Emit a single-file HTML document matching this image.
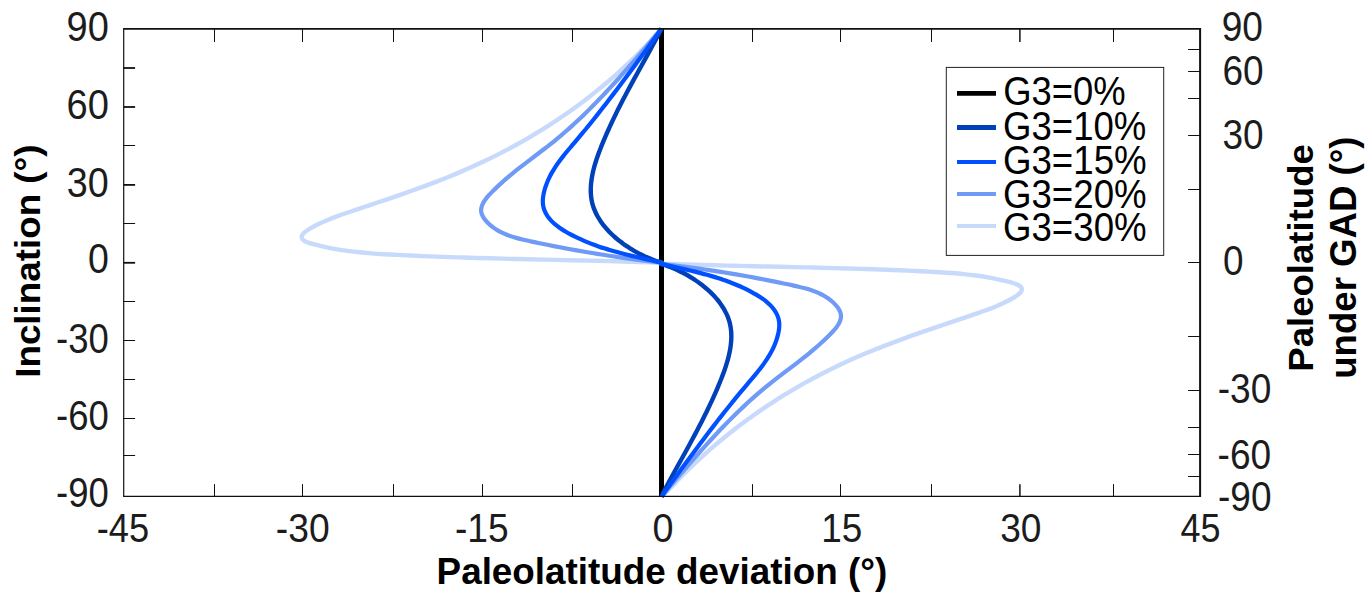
<!DOCTYPE html><html><head><meta charset="utf-8"><title>chart</title><style>html,body{margin:0;padding:0;background:#fff}svg{display:block;font-family:"Liberation Sans",sans-serif}</style></head><body>
<svg width="1372" height="595" viewBox="0 0 1372 595">
<rect width="1372" height="595" fill="#fff"/>
<g fill="none" stroke-linejoin="round">
<line x1="661.5" y1="28.9" x2="661.5" y2="496.35" stroke="#000" stroke-width="5"/>
<path d="M661.40,28.60 C660.03,30.18 655.96,35.02 653.18,38.10 C650.40,41.18 647.58,44.13 644.72,47.09 C641.87,50.05 638.98,52.98 636.05,55.88 C633.12,58.77 630.15,61.63 627.15,64.46 C624.15,67.28 621.12,70.07 618.05,72.83 C614.98,75.58 611.87,78.30 608.73,80.98 C605.60,83.67 602.42,86.31 599.22,88.92 C596.02,91.53 592.78,94.11 589.52,96.65 C586.25,99.18 582.96,101.68 579.63,104.15 C576.31,106.61 572.95,109.04 569.57,111.43 C566.18,113.82 562.77,116.17 559.33,118.49 C555.89,120.80 552.42,123.08 548.93,125.32 C545.44,127.56 541.92,129.77 538.37,131.93 C534.83,134.10 531.26,136.23 527.67,138.32 C524.07,140.41 520.46,142.46 516.82,144.48 C513.18,146.49 509.51,148.47 505.83,150.41 C502.14,152.35 498.44,154.25 494.71,156.11 C490.98,157.98 487.23,159.80 483.47,161.59 C479.70,163.38 475.91,165.13 472.10,166.84 C468.30,168.55 464.48,170.22 460.63,171.86 C456.78,173.50 452.91,175.10 449.00,176.68 C445.10,178.26 441.16,179.81 437.20,181.33 C433.24,182.86 429.25,184.36 425.24,185.84 C421.23,187.33 417.19,188.79 413.13,190.24 C409.07,191.69 404.99,193.12 400.89,194.55 C396.78,195.97 392.65,197.38 388.51,198.80 C384.36,200.21 380.19,201.61 376.01,203.02 C371.82,204.44 367.59,205.85 363.40,207.26 C359.21,208.67 354.94,210.10 350.85,211.49 C346.77,212.88 342.67,214.24 338.91,215.60 C335.14,216.97 331.66,218.27 328.26,219.68 C324.87,221.09 321.66,222.52 318.54,224.06 C315.43,225.60 311.90,227.53 309.57,228.91 C307.24,230.30 305.71,231.46 304.56,232.38 C303.41,233.31 303.09,233.87 302.65,234.47 C302.20,235.07 302.05,235.55 301.90,236.00 C301.74,236.45 301.72,236.81 301.71,237.16 C301.71,237.51 301.75,237.79 301.86,238.11 C301.97,238.43 302.08,238.72 302.36,239.08 C302.64,239.44 302.86,239.80 303.54,240.28 C304.23,240.75 304.83,241.28 306.47,241.93 C308.10,242.58 310.36,243.37 313.37,244.19 C316.38,245.01 320.74,246.05 324.50,246.86 C328.26,247.68 332.08,248.42 335.93,249.09 C339.78,249.75 343.66,250.34 347.60,250.87 C351.54,251.40 355.51,251.86 359.54,252.27 C363.58,252.68 367.66,253.02 371.81,253.34 C375.96,253.66 380.17,253.92 384.45,254.18 C388.72,254.43 393.11,254.66 397.47,254.88 C401.82,255.11 406.21,255.32 410.59,255.52 C414.97,255.73 419.35,255.92 423.73,256.11 C428.12,256.29 432.50,256.47 436.89,256.63 C441.29,256.80 445.68,256.96 450.08,257.11 C454.47,257.26 458.88,257.41 463.28,257.55 C467.68,257.69 472.09,257.82 476.50,257.95 C480.91,258.08 485.32,258.20 489.74,258.32 C494.15,258.44 498.57,258.55 502.99,258.66 C507.42,258.77 511.84,258.88 516.27,258.98 C520.70,259.09 525.13,259.19 529.56,259.29 C533.99,259.39 538.43,259.49 542.87,259.59 C547.31,259.69 551.75,259.79 556.19,259.89 C560.63,259.99 565.07,260.09 569.50,260.19 C573.94,260.29 578.37,260.39 582.80,260.49 C587.23,260.60 591.65,260.70 596.08,260.81 C600.50,260.92 604.92,261.03 609.34,261.15 C613.76,261.27 618.17,261.39 622.58,261.51 C626.99,261.64 631.40,261.77 635.81,261.90 C640.21,262.04 644.61,262.18 649.01,262.33 C653.41,262.48 660.00,262.72 662.20,262.80 M661.30,263.60 C663.50,263.68 670.09,263.92 674.49,264.07 C678.89,264.22 683.29,264.36 687.69,264.50 C692.10,264.63 696.51,264.76 700.92,264.89 C705.33,265.01 709.74,265.13 714.16,265.25 C718.58,265.37 723.00,265.48 727.42,265.59 C731.85,265.70 736.27,265.80 740.70,265.91 C745.13,266.01 749.56,266.11 754.00,266.21 C758.43,266.31 762.87,266.41 767.31,266.51 C771.75,266.61 776.19,266.71 780.63,266.81 C785.07,266.91 789.51,267.01 793.94,267.11 C798.37,267.21 802.80,267.31 807.23,267.42 C811.66,267.52 816.08,267.63 820.51,267.74 C824.93,267.85 829.35,267.96 833.76,268.08 C838.18,268.20 842.59,268.32 847.00,268.45 C851.41,268.58 855.82,268.71 860.22,268.85 C864.62,268.99 869.03,269.14 873.42,269.29 C877.82,269.44 882.21,269.60 886.61,269.77 C891.00,269.93 895.38,270.11 899.77,270.29 C904.15,270.48 908.53,270.67 912.91,270.88 C917.29,271.08 921.68,271.29 926.03,271.52 C930.39,271.74 934.78,271.97 939.05,272.22 C943.33,272.48 947.54,272.74 951.69,273.06 C955.84,273.38 959.92,273.72 963.96,274.13 C967.99,274.54 971.96,275.00 975.90,275.53 C979.84,276.06 983.72,276.65 987.57,277.31 C991.42,277.98 995.24,278.72 999.00,279.54 C1002.76,280.35 1007.12,281.39 1010.13,282.21 C1013.14,283.03 1015.40,283.82 1017.03,284.47 C1018.67,285.12 1019.27,285.65 1019.96,286.12 C1020.64,286.60 1020.86,286.96 1021.14,287.32 C1021.42,287.68 1021.53,287.97 1021.64,288.29 C1021.75,288.61 1021.79,288.89 1021.79,289.24 C1021.78,289.59 1021.76,289.95 1021.60,290.40 C1021.45,290.85 1021.30,291.33 1020.85,291.93 C1020.41,292.53 1020.09,293.09 1018.94,294.02 C1017.79,294.94 1016.26,296.10 1013.93,297.49 C1011.60,298.87 1008.07,300.80 1004.96,302.34 C1001.84,303.88 998.63,305.31 995.24,306.72 C991.84,308.13 988.36,309.43 984.59,310.80 C980.83,312.16 976.73,313.52 972.65,314.91 C968.56,316.30 964.29,317.73 960.10,319.14 C955.91,320.55 951.68,321.96 947.49,323.38 C943.31,324.79 939.14,326.19 934.99,327.60 C930.85,329.02 926.72,330.43 922.61,331.85 C918.51,333.28 914.43,334.71 910.37,336.16 C906.31,337.61 902.27,339.07 898.26,340.56 C894.25,342.04 890.26,343.54 886.30,345.07 C882.34,346.59 878.40,348.14 874.50,349.72 C870.59,351.30 866.72,352.90 862.87,354.54 C859.02,356.18 855.20,357.85 851.40,359.56 C847.59,361.27 843.80,363.02 840.03,364.81 C836.27,366.60 832.52,368.42 828.79,370.29 C825.06,372.15 821.36,374.05 817.67,375.99 C813.99,377.93 810.32,379.91 806.68,381.92 C803.04,383.94 799.43,385.99 795.83,388.08 C792.24,390.17 788.67,392.30 785.13,394.47 C781.58,396.63 778.06,398.84 774.57,401.08 C771.08,403.32 767.61,405.60 764.17,407.91 C760.73,410.23 757.32,412.58 753.93,414.97 C750.55,417.36 747.19,419.79 743.87,422.25 C740.54,424.72 737.25,427.22 733.98,429.75 C730.72,432.29 727.48,434.87 724.28,437.48 C721.08,440.09 717.90,442.73 714.77,445.42 C711.63,448.10 708.52,450.82 705.45,453.57 C702.38,456.33 699.35,459.12 696.35,461.94 C693.35,464.77 690.38,467.63 687.45,470.52 C684.52,473.42 681.63,476.35 678.78,479.31 C675.92,482.27 673.19,485.40 670.32,488.30 C667.46,491.21 663.05,495.34 661.60,496.75" stroke="#c8dafc" stroke-width="4.4"/>
<path d="M661.40,28.60 C660.53,29.67 657.92,32.95 656.19,35.05 C654.45,37.14 652.72,39.14 650.99,41.17 C649.26,43.21 647.53,45.24 645.80,47.26 C644.08,49.28 642.36,51.30 640.63,53.30 C638.91,55.31 637.19,57.31 635.47,59.30 C633.75,61.29 632.02,63.27 630.30,65.25 C628.58,67.22 626.85,69.18 625.13,71.13 C623.40,73.09 621.67,75.03 619.94,76.96 C618.21,78.89 616.48,80.82 614.74,82.73 C613.00,84.63 611.26,86.53 609.52,88.42 C607.77,90.30 606.02,92.17 604.27,94.03 C602.51,95.89 600.76,97.74 598.99,99.57 C597.23,101.40 595.45,103.22 593.68,105.02 C591.90,106.82 590.12,108.61 588.33,110.38 C586.54,112.15 584.74,113.90 582.94,115.64 C581.13,117.37 579.32,119.09 577.50,120.80 C575.68,122.50 573.86,124.18 572.02,125.84 C570.18,127.51 568.34,129.15 566.49,130.78 C564.64,132.40 562.78,134.00 560.91,135.58 C559.04,137.17 557.17,138.72 555.27,140.27 C553.37,141.81 551.47,143.33 549.51,144.87 C547.56,146.41 545.56,147.95 543.52,149.52 C541.48,151.08 539.39,152.66 537.29,154.26 C535.19,155.85 533.01,157.49 530.91,159.09 C528.81,160.68 526.74,162.25 524.71,163.81 C522.68,165.37 520.69,166.92 518.73,168.46 C516.78,170.01 514.86,171.54 512.97,173.08 C511.09,174.62 509.24,176.16 507.43,177.71 C505.61,179.26 503.83,180.81 502.09,182.38 C500.34,183.94 498.61,185.53 496.95,187.11 C495.28,188.69 493.54,190.38 492.09,191.85 C490.64,193.32 489.36,194.67 488.25,195.93 C487.14,197.20 486.23,198.34 485.44,199.42 C484.65,200.50 484.03,201.48 483.50,202.40 C482.97,203.33 482.58,204.16 482.25,204.96 C481.92,205.75 481.70,206.48 481.52,207.17 C481.34,207.87 481.24,208.51 481.18,209.14 C481.12,209.77 481.12,210.36 481.16,210.95 C481.20,211.55 481.27,212.09 481.41,212.70 C481.56,213.31 481.74,213.94 482.01,214.62 C482.29,215.31 482.62,216.04 483.07,216.82 C483.52,217.60 484.05,218.43 484.71,219.30 C485.36,220.17 486.13,221.10 487.02,222.04 C487.90,222.97 488.92,223.96 489.99,224.89 C491.07,225.83 492.23,226.75 493.44,227.63 C494.65,228.50 495.91,229.33 497.25,230.13 C498.59,230.92 499.99,231.68 501.47,232.41 C502.96,233.14 504.51,233.83 506.16,234.49 C507.80,235.16 509.53,235.78 511.35,236.38 C513.18,236.99 515.09,237.56 517.11,238.11 C519.14,238.67 521.25,239.19 523.51,239.73 C525.77,240.27 528.20,240.79 530.67,241.33 C533.14,241.86 535.78,242.42 538.33,242.95 C540.89,243.49 543.45,244.02 546.00,244.54 C548.56,245.05 551.12,245.57 553.68,246.07 C556.24,246.57 558.80,247.07 561.37,247.56 C563.93,248.05 566.49,248.53 569.06,249.00 C571.63,249.47 574.19,249.94 576.76,250.39 C579.33,250.85 581.90,251.30 584.47,251.74 C587.05,252.18 589.62,252.62 592.20,253.04 C594.77,253.47 597.35,253.89 599.93,254.30 C602.51,254.71 605.09,255.11 607.67,255.51 C610.25,255.90 612.84,256.29 615.43,256.67 C618.01,257.06 620.60,257.43 623.19,257.80 C625.78,258.16 628.37,258.52 630.97,258.88 C633.56,259.23 636.16,259.58 638.76,259.92 C641.36,260.26 643.96,260.59 646.56,260.92 C649.16,261.24 651.77,261.56 654.37,261.88 C656.98,262.19 660.90,262.65 662.20,262.80 M659.90,263.60 C661.20,263.75 665.12,264.21 667.73,264.52 C670.33,264.84 672.94,265.16 675.54,265.48 C678.14,265.81 680.74,266.14 683.34,266.48 C685.94,266.82 688.54,267.17 691.13,267.52 C693.73,267.88 696.32,268.24 698.91,268.60 C701.50,268.97 704.09,269.34 706.67,269.73 C709.26,270.11 711.85,270.50 714.43,270.89 C717.01,271.29 719.59,271.69 722.17,272.10 C724.75,272.51 727.33,272.93 729.90,273.36 C732.48,273.78 735.05,274.22 737.63,274.66 C740.20,275.10 742.77,275.55 745.34,276.01 C747.91,276.46 750.47,276.93 753.04,277.40 C755.61,277.87 758.17,278.35 760.73,278.84 C763.30,279.33 765.86,279.83 768.42,280.33 C770.98,280.83 773.54,281.35 776.10,281.86 C778.65,282.38 781.21,282.91 783.77,283.45 C786.32,283.98 788.96,284.54 791.43,285.07 C793.90,285.61 796.33,286.13 798.59,286.67 C800.85,287.21 802.96,287.73 804.99,288.29 C807.01,288.84 808.92,289.41 810.75,290.02 C812.57,290.62 814.30,291.24 815.94,291.91 C817.59,292.57 819.14,293.26 820.63,293.99 C822.11,294.72 823.51,295.48 824.85,296.27 C826.19,297.07 827.45,297.90 828.66,298.77 C829.87,299.65 831.03,300.57 832.11,301.51 C833.18,302.44 834.20,303.43 835.08,304.36 C835.97,305.30 836.74,306.23 837.39,307.10 C838.05,307.97 838.58,308.80 839.03,309.58 C839.48,310.36 839.81,311.09 840.09,311.78 C840.36,312.46 840.54,313.09 840.69,313.70 C840.83,314.31 840.90,314.85 840.94,315.45 C840.98,316.04 840.98,316.63 840.92,317.26 C840.86,317.89 840.76,318.53 840.58,319.23 C840.40,319.92 840.18,320.65 839.85,321.44 C839.52,322.24 839.13,323.07 838.60,324.00 C838.07,324.92 837.45,325.90 836.66,326.98 C835.87,328.06 834.96,329.20 833.85,330.47 C832.74,331.73 831.46,333.08 830.01,334.55 C828.56,336.02 826.82,337.71 825.15,339.29 C823.49,340.87 821.76,342.46 820.01,344.02 C818.27,345.59 816.49,347.14 814.67,348.69 C812.86,350.24 811.01,351.78 809.13,353.32 C807.24,354.86 805.32,356.39 803.37,357.94 C801.41,359.48 799.42,361.03 797.39,362.59 C795.36,364.15 793.29,365.72 791.19,367.31 C789.09,368.91 786.91,370.55 784.81,372.14 C782.71,373.74 780.62,375.32 778.58,376.88 C776.54,378.45 774.54,379.99 772.59,381.53 C770.63,383.07 768.73,384.59 766.83,386.13 C764.93,387.68 763.06,389.23 761.19,390.82 C759.32,392.40 757.46,394.00 755.61,395.62 C753.76,397.25 751.92,398.89 750.08,400.56 C748.24,402.22 746.42,403.90 744.60,405.60 C742.78,407.31 740.97,409.03 739.16,410.76 C737.36,412.50 735.56,414.25 733.77,416.02 C731.98,417.79 730.20,419.58 728.42,421.38 C726.65,423.18 724.87,425.00 723.11,426.83 C721.34,428.66 719.59,430.51 717.83,432.37 C716.08,434.23 714.33,436.10 712.58,437.98 C710.84,439.87 709.10,441.77 707.36,443.67 C705.62,445.58 703.89,447.51 702.16,449.44 C700.43,451.37 698.70,453.31 696.97,455.27 C695.25,457.22 693.52,459.18 691.80,461.15 C690.08,463.13 688.35,465.11 686.63,467.10 C684.91,469.09 683.19,471.09 681.47,473.10 C679.74,475.10 678.02,477.12 676.30,479.14 C674.57,481.16 672.84,483.19 671.11,485.23 C669.38,487.26 667.50,489.43 665.91,491.35 C664.33,493.28 662.32,495.85 661.60,496.75" stroke="#6f9af5" stroke-width="4.2"/>
<path d="M661.40,28.60 C661.01,29.39 659.86,31.80 659.09,33.32 C658.31,34.84 657.53,36.27 656.74,37.75 C655.95,39.22 655.16,40.70 654.36,42.18 C653.56,43.66 652.76,45.15 651.95,46.63 C651.14,48.12 650.33,49.61 649.52,51.10 C648.70,52.59 647.88,54.09 647.05,55.59 C646.23,57.08 645.40,58.59 644.57,60.10 C643.74,61.60 642.90,63.12 642.06,64.63 C641.23,66.15 640.38,67.67 639.55,69.18 C638.72,70.69 637.88,72.19 637.06,73.69 C636.23,75.19 635.41,76.69 634.59,78.18 C633.77,79.68 632.96,81.17 632.15,82.65 C631.34,84.14 630.54,85.62 629.74,87.10 C628.94,88.58 628.15,90.05 627.36,91.52 C626.58,93.00 625.80,94.47 625.02,95.94 C624.25,97.40 623.48,98.87 622.72,100.34 C621.96,101.80 621.21,103.26 620.46,104.72 C619.71,106.19 618.97,107.65 618.24,109.11 C617.51,110.57 616.78,112.02 616.07,113.48 C615.35,114.94 614.64,116.40 613.94,117.86 C613.24,119.32 612.54,120.77 611.86,122.23 C611.17,123.69 610.49,125.15 609.82,126.61 C609.15,128.07 608.49,129.53 607.84,130.99 C607.19,132.45 606.54,133.92 605.91,135.38 C605.27,136.84 604.64,138.32 604.02,139.78 C603.41,141.24 602.80,142.71 602.21,144.15 C601.62,145.59 601.05,147.02 600.50,148.43 C599.95,149.84 599.41,151.24 598.90,152.62 C598.39,154.00 597.90,155.37 597.43,156.73 C596.96,158.09 596.51,159.43 596.08,160.76 C595.66,162.09 595.26,163.40 594.88,164.70 C594.50,166.00 594.15,167.29 593.82,168.56 C593.49,169.83 593.19,171.09 592.91,172.33 C592.64,173.57 592.38,174.80 592.16,176.01 C591.94,177.22 591.74,178.41 591.57,179.59 C591.40,180.76 591.26,181.92 591.14,183.07 C591.03,184.21 590.94,185.33 590.88,186.44 C590.81,187.54 590.78,188.63 590.77,189.70 C590.77,190.77 590.79,191.82 590.83,192.86 C590.88,193.89 590.95,194.91 591.05,195.91 C591.15,196.90 591.27,197.88 591.42,198.85 C591.57,199.81 591.74,200.76 591.94,201.69 C592.15,202.62 592.37,203.53 592.62,204.45 C592.88,205.37 593.16,206.29 593.48,207.20 C593.79,208.12 594.13,209.04 594.51,209.96 C594.88,210.88 595.28,211.80 595.72,212.72 C596.15,213.64 596.61,214.56 597.11,215.48 C597.60,216.40 598.13,217.32 598.68,218.24 C599.23,219.15 599.82,220.06 600.43,220.97 C601.04,221.88 601.69,222.79 602.36,223.70 C603.03,224.60 603.73,225.50 604.46,226.39 C605.19,227.28 605.95,228.17 606.73,229.05 C607.51,229.93 608.33,230.81 609.16,231.67 C610.00,232.54 610.86,233.40 611.75,234.25 C612.63,235.10 613.54,235.94 614.48,236.77 C615.41,237.60 616.37,238.42 617.34,239.22 C618.32,240.03 619.32,240.83 620.34,241.61 C621.35,242.40 622.39,243.17 623.45,243.93 C624.50,244.69 625.58,245.44 626.67,246.17 C627.75,246.90 628.86,247.62 629.98,248.32 C631.10,249.02 632.23,249.71 633.38,250.38 C634.53,251.05 635.69,251.70 636.85,252.34 C638.02,252.97 639.21,253.60 640.39,254.20 C641.58,254.80 642.78,255.38 643.98,255.95 C645.19,256.51 646.40,257.06 647.61,257.58 C648.82,258.10 650.04,258.61 651.26,259.09 C652.48,259.57 653.71,260.03 654.92,260.47 C656.14,260.90 657.36,261.32 658.57,261.71 C659.79,262.10 661.60,262.62 662.20,262.80 M659.90,263.60 C660.50,263.78 662.31,264.30 663.53,264.69 C664.74,265.08 665.96,265.50 667.18,265.93 C668.39,266.37 669.62,266.83 670.84,267.31 C672.06,267.79 673.28,268.30 674.49,268.82 C675.70,269.34 676.91,269.89 678.12,270.45 C679.32,271.02 680.52,271.60 681.71,272.20 C682.89,272.80 684.08,273.43 685.25,274.06 C686.41,274.70 687.57,275.35 688.72,276.02 C689.87,276.69 691.00,277.38 692.12,278.08 C693.24,278.78 694.35,279.50 695.43,280.23 C696.52,280.96 697.60,281.71 698.65,282.47 C699.71,283.23 700.75,284.00 701.76,284.79 C702.78,285.57 703.78,286.37 704.76,287.18 C705.73,287.98 706.69,288.80 707.62,289.63 C708.56,290.46 709.47,291.30 710.35,292.15 C711.24,293.00 712.10,293.86 712.94,294.73 C713.77,295.59 714.59,296.47 715.37,297.35 C716.15,298.23 716.91,299.12 717.64,300.01 C718.37,300.90 719.07,301.80 719.74,302.70 C720.41,303.61 721.06,304.52 721.67,305.43 C722.28,306.34 722.87,307.25 723.42,308.16 C723.97,309.08 724.50,310.00 724.99,310.92 C725.49,311.84 725.95,312.76 726.38,313.68 C726.82,314.60 727.22,315.52 727.59,316.44 C727.97,317.36 728.31,318.28 728.62,319.20 C728.94,320.11 729.22,321.03 729.48,321.95 C729.73,322.87 729.95,323.78 730.16,324.71 C730.36,325.64 730.53,326.59 730.68,327.55 C730.83,328.52 730.95,329.50 731.05,330.49 C731.15,331.49 731.22,332.51 731.27,333.54 C731.31,334.58 731.33,335.63 731.33,336.70 C731.32,337.77 731.29,338.86 731.22,339.96 C731.16,341.07 731.07,342.19 730.96,343.33 C730.84,344.48 730.70,345.64 730.53,346.81 C730.36,347.99 730.16,349.18 729.94,350.39 C729.72,351.60 729.46,352.83 729.19,354.07 C728.91,355.31 728.61,356.57 728.28,357.84 C727.95,359.11 727.60,360.40 727.22,361.70 C726.84,363.00 726.44,364.31 726.02,365.64 C725.59,366.97 725.14,368.31 724.67,369.67 C724.20,371.03 723.71,372.40 723.20,373.78 C722.69,375.16 722.15,376.56 721.60,377.97 C721.05,379.38 720.48,380.81 719.89,382.25 C719.30,383.69 718.69,385.16 718.08,386.62 C717.46,388.08 716.83,389.56 716.19,391.02 C715.56,392.48 714.91,393.95 714.26,395.41 C713.61,396.87 712.95,398.33 712.28,399.79 C711.61,401.25 710.93,402.71 710.24,404.17 C709.56,405.63 708.86,407.08 708.16,408.54 C707.46,410.00 706.75,411.46 706.03,412.92 C705.32,414.38 704.59,415.83 703.86,417.29 C703.13,418.75 702.39,420.21 701.64,421.68 C700.89,423.14 700.14,424.60 699.38,426.06 C698.62,427.53 697.85,429.00 697.08,430.46 C696.30,431.93 695.52,433.40 694.74,434.88 C693.95,436.35 693.16,437.82 692.36,439.30 C691.56,440.78 690.76,442.26 689.95,443.75 C689.14,445.23 688.33,446.72 687.51,448.22 C686.69,449.71 685.87,451.21 685.04,452.71 C684.22,454.21 683.38,455.71 682.55,457.22 C681.72,458.73 680.87,460.25 680.04,461.77 C679.20,463.28 678.36,464.80 677.53,466.30 C676.70,467.81 675.87,469.32 675.05,470.81 C674.22,472.31 673.40,473.81 672.58,475.30 C671.77,476.79 670.96,478.28 670.15,479.77 C669.34,481.25 668.54,482.74 667.74,484.22 C666.94,485.70 666.15,487.18 665.36,488.65 C664.57,490.13 663.64,491.73 663.01,493.08 C662.39,494.43 661.84,496.14 661.60,496.75" stroke="#0040b8" stroke-width="4.4"/>
<path d="M661.40,28.60 C660.78,29.51 658.91,32.27 657.67,34.04 C656.43,35.80 655.18,37.46 653.94,39.17 C652.70,40.88 651.46,42.59 650.22,44.30 C648.98,46.00 647.74,47.71 646.50,49.41 C645.26,51.11 644.03,52.81 642.79,54.51 C641.55,56.20 640.31,57.90 639.07,59.59 C637.83,61.28 636.60,62.97 635.36,64.65 C634.12,66.34 632.88,68.02 631.64,69.70 C630.40,71.38 629.16,73.05 627.92,74.73 C626.68,76.40 625.44,78.07 624.19,79.73 C622.95,81.40 621.71,83.06 620.46,84.72 C619.21,86.38 617.97,88.03 616.72,89.68 C615.47,91.33 614.22,92.98 612.96,94.62 C611.71,96.26 610.46,97.90 609.20,99.54 C607.94,101.17 606.68,102.80 605.42,104.43 C604.16,106.05 602.89,107.68 601.63,109.29 C600.36,110.91 599.09,112.52 597.82,114.13 C596.55,115.74 595.27,117.34 593.99,118.94 C592.71,120.54 591.43,122.13 590.15,123.72 C588.86,125.30 587.57,126.89 586.28,128.47 C584.99,130.04 583.69,131.62 582.39,133.19 C581.09,134.75 579.79,136.31 578.48,137.87 C577.17,139.43 575.86,140.98 574.53,142.55 C573.20,144.12 571.80,145.75 570.51,147.29 C569.21,148.83 567.95,150.32 566.75,151.79 C565.54,153.26 564.38,154.68 563.27,156.09 C562.16,157.50 561.10,158.88 560.08,160.25 C559.06,161.62 558.09,162.96 557.16,164.30 C556.23,165.63 555.36,166.95 554.52,168.26 C553.69,169.57 552.90,170.87 552.16,172.16 C551.41,173.46 550.71,174.74 550.06,176.02 C549.40,177.30 548.79,178.58 548.22,179.85 C547.65,181.12 547.13,182.39 546.64,183.66 C546.16,184.93 545.71,186.20 545.31,187.47 C544.91,188.74 544.54,190.05 544.23,191.28 C543.92,192.51 543.66,193.71 543.45,194.84 C543.25,195.97 543.10,197.05 542.99,198.07 C542.88,199.09 542.83,200.05 542.81,200.96 C542.80,201.86 542.83,202.69 542.89,203.51 C542.96,204.33 543.06,205.09 543.20,205.87 C543.34,206.65 543.52,207.42 543.74,208.19 C543.96,208.96 544.22,209.73 544.52,210.49 C544.83,211.26 545.17,212.03 545.56,212.80 C545.96,213.57 546.39,214.34 546.89,215.11 C547.38,215.89 547.92,216.67 548.52,217.45 C549.11,218.23 549.77,219.02 550.48,219.81 C551.20,220.60 551.97,221.40 552.80,222.20 C553.64,223.00 554.54,223.80 555.50,224.60 C556.47,225.39 557.49,226.20 558.58,226.99 C559.67,227.79 560.83,228.59 562.04,229.38 C563.25,230.17 564.53,230.96 565.86,231.74 C567.20,232.53 568.59,233.31 570.04,234.08 C571.48,234.86 573.00,235.64 574.55,236.41 C576.09,237.17 577.71,237.95 579.31,238.69 C580.91,239.43 582.53,240.15 584.15,240.85 C585.78,241.55 587.41,242.23 589.06,242.90 C590.72,243.56 592.38,244.20 594.06,244.83 C595.74,245.45 597.43,246.06 599.14,246.65 C600.86,247.24 602.58,247.81 604.33,248.37 C606.07,248.93 607.83,249.48 609.62,250.01 C611.40,250.54 613.20,251.06 615.02,251.57 C616.84,252.07 618.68,252.57 620.54,253.05 C622.41,253.54 624.29,254.02 626.20,254.49 C628.10,254.96 630.03,255.43 631.98,255.89 C633.93,256.35 635.90,256.81 637.90,257.27 C639.90,257.73 641.92,258.19 643.95,258.65 C645.99,259.11 648.08,259.58 650.12,260.04 C652.16,260.50 654.20,260.96 656.21,261.42 C658.23,261.88 661.20,262.57 662.20,262.80 M659.90,263.60 C660.90,263.83 663.87,264.52 665.89,264.98 C667.90,265.44 669.94,265.90 671.98,266.36 C674.02,266.82 676.11,267.29 678.15,267.75 C680.18,268.21 682.20,268.67 684.20,269.13 C686.20,269.59 688.17,270.05 690.12,270.51 C692.07,270.97 694.00,271.44 695.90,271.91 C697.81,272.38 699.69,272.86 701.56,273.35 C703.42,273.83 705.26,274.33 707.08,274.83 C708.90,275.34 710.70,275.86 712.48,276.39 C714.27,276.92 716.03,277.47 717.77,278.03 C719.52,278.59 721.24,279.16 722.96,279.75 C724.67,280.34 726.36,280.95 728.04,281.57 C729.72,282.20 731.38,282.84 733.04,283.50 C734.69,284.17 736.32,284.85 737.95,285.55 C739.57,286.25 741.19,286.97 742.79,287.71 C744.39,288.45 746.01,289.23 747.55,289.99 C749.10,290.76 750.62,291.54 752.06,292.32 C753.51,293.09 754.90,293.87 756.24,294.66 C757.57,295.44 758.85,296.23 760.06,297.02 C761.27,297.81 762.43,298.61 763.52,299.41 C764.61,300.20 765.63,301.01 766.60,301.80 C767.56,302.60 768.46,303.40 769.30,304.20 C770.13,305.00 770.90,305.80 771.62,306.59 C772.33,307.38 772.99,308.17 773.58,308.95 C774.18,309.73 774.72,310.51 775.21,311.29 C775.71,312.06 776.14,312.83 776.54,313.60 C776.93,314.37 777.27,315.14 777.58,315.91 C777.88,316.67 778.14,317.44 778.36,318.21 C778.58,318.98 778.76,319.75 778.90,320.53 C779.04,321.31 779.14,322.07 779.21,322.89 C779.27,323.71 779.30,324.54 779.29,325.44 C779.27,326.35 779.22,327.31 779.11,328.33 C779.00,329.35 778.85,330.43 778.65,331.56 C778.44,332.69 778.18,333.89 777.87,335.12 C777.56,336.35 777.19,337.66 776.79,338.93 C776.39,340.20 775.94,341.47 775.46,342.74 C774.97,344.01 774.45,345.28 773.88,346.55 C773.31,347.82 772.70,349.10 772.04,350.38 C771.39,351.66 770.69,352.94 769.94,354.24 C769.20,355.53 768.41,356.83 767.58,358.14 C766.74,359.45 765.87,360.77 764.94,362.10 C764.01,363.44 763.04,364.78 762.02,366.15 C761.00,367.52 759.94,368.90 758.83,370.31 C757.72,371.72 756.56,373.14 755.35,374.61 C754.15,376.08 752.89,377.57 751.59,379.11 C750.30,380.65 748.90,382.28 747.57,383.85 C746.24,385.42 744.93,386.97 743.62,388.53 C742.31,390.09 741.01,391.65 739.71,393.21 C738.41,394.78 737.11,396.36 735.82,397.93 C734.53,399.51 733.24,401.10 731.95,402.68 C730.67,404.27 729.39,405.86 728.11,407.46 C726.83,409.06 725.55,410.66 724.28,412.27 C723.01,413.88 721.74,415.49 720.47,417.11 C719.21,418.72 717.94,420.35 716.68,421.97 C715.42,423.60 714.16,425.23 712.90,426.86 C711.64,428.50 710.39,430.14 709.14,431.78 C707.88,433.42 706.63,435.07 705.38,436.72 C704.13,438.37 702.89,440.02 701.64,441.68 C700.39,443.34 699.15,445.00 697.91,446.67 C696.66,448.33 695.42,450.00 694.18,451.67 C692.94,453.35 691.70,455.02 690.46,456.70 C689.22,458.38 687.98,460.06 686.74,461.75 C685.50,463.43 684.27,465.12 683.03,466.81 C681.79,468.50 680.55,470.20 679.31,471.89 C678.07,473.59 676.84,475.29 675.60,476.99 C674.36,478.69 673.12,480.40 671.88,482.10 C670.64,483.81 669.40,485.52 668.16,487.23 C666.92,488.94 665.52,490.78 664.43,492.36 C663.34,493.95 662.07,496.02 661.60,496.75" stroke="#0050ff" stroke-width="4.2"/>
</g>
<g stroke="#111" fill="none">
<line x1="123.10000000000001" y1="28.9" x2="1201.1" y2="28.9" stroke-width="1.6"/>
<line x1="123.10000000000001" y1="496.35" x2="1201.1" y2="496.35" stroke-width="1.05"/>
<line x1="123.7" y1="28.9" x2="123.7" y2="496.35" stroke-width="1.2"/>
<line x1="1200.1" y1="28.9" x2="1200.1" y2="496.35" stroke-width="2"/>
<line x1="214.5" y1="28.9" x2="214.5" y2="42.0" stroke-width="1"/>
<line x1="214.5" y1="496.35" x2="214.5" y2="484.15000000000003" stroke-width="1"/>
<line x1="302.5" y1="28.9" x2="302.5" y2="42.0" stroke-width="1"/>
<line x1="302.5" y1="496.35" x2="302.5" y2="484.15000000000003" stroke-width="1"/>
<line x1="393.5" y1="28.9" x2="393.5" y2="42.0" stroke-width="1"/>
<line x1="393.5" y1="496.35" x2="393.5" y2="484.15000000000003" stroke-width="1"/>
<line x1="482.5" y1="28.9" x2="482.5" y2="42.0" stroke-width="1"/>
<line x1="482.5" y1="496.35" x2="482.5" y2="484.15000000000003" stroke-width="1"/>
<line x1="572.5" y1="28.9" x2="572.5" y2="42.0" stroke-width="1"/>
<line x1="572.5" y1="496.35" x2="572.5" y2="484.15000000000003" stroke-width="1"/>
<line x1="752.5" y1="28.9" x2="752.5" y2="42.0" stroke-width="1"/>
<line x1="752.5" y1="496.35" x2="752.5" y2="484.15000000000003" stroke-width="1"/>
<line x1="840.5" y1="28.9" x2="840.5" y2="42.0" stroke-width="1"/>
<line x1="840.5" y1="496.35" x2="840.5" y2="484.15000000000003" stroke-width="1"/>
<line x1="931.5" y1="28.9" x2="931.5" y2="42.0" stroke-width="1"/>
<line x1="931.5" y1="496.35" x2="931.5" y2="484.15000000000003" stroke-width="1"/>
<line x1="1019.9" y1="28.9" x2="1019.9" y2="42.0" stroke-width="1.5"/>
<line x1="1019.9" y1="496.35" x2="1019.9" y2="484.15000000000003" stroke-width="1.5"/>
<line x1="1113.5" y1="28.9" x2="1113.5" y2="42.0" stroke-width="1"/>
<line x1="1113.5" y1="496.35" x2="1113.5" y2="484.15000000000003" stroke-width="1"/>
<line x1="123.7" y1="68.0" x2="135.1" y2="68.0" stroke-width="1.8"/>
<line x1="123.7" y1="107.0" x2="135.1" y2="107.0" stroke-width="1.8"/>
<line x1="123.7" y1="145.5" x2="135.1" y2="145.5" stroke-width="1"/>
<line x1="123.7" y1="184.9" x2="135.1" y2="184.9" stroke-width="1.8"/>
<line x1="123.7" y1="223.5" x2="135.1" y2="223.5" stroke-width="1"/>
<line x1="123.7" y1="262.8" x2="135.1" y2="262.8" stroke-width="1.8"/>
<line x1="123.7" y1="301.5" x2="135.1" y2="301.5" stroke-width="1"/>
<line x1="123.7" y1="340.5" x2="135.1" y2="340.5" stroke-width="1"/>
<line x1="123.7" y1="379.5" x2="135.1" y2="379.5" stroke-width="1"/>
<line x1="123.7" y1="418.5" x2="135.1" y2="418.5" stroke-width="1"/>
<line x1="123.7" y1="455.5" x2="135.1" y2="455.5" stroke-width="1"/>
<line x1="1200.1" y1="49.5" x2="1188.1" y2="49.5" stroke-width="1"/>
<line x1="1200.1" y1="71.5" x2="1188.1" y2="71.5" stroke-width="1"/>
<line x1="1200.1" y1="98.5" x2="1188.1" y2="98.5" stroke-width="1"/>
<line x1="1200.1" y1="135.5" x2="1188.1" y2="135.5" stroke-width="1"/>
<line x1="1200.1" y1="189.5" x2="1188.1" y2="189.5" stroke-width="1"/>
<line x1="1200.1" y1="262.5" x2="1188.1" y2="262.5" stroke-width="1"/>
<line x1="1200.1" y1="336.5" x2="1188.1" y2="336.5" stroke-width="1"/>
<line x1="1200.1" y1="390.5" x2="1188.1" y2="390.5" stroke-width="1"/>
<line x1="1200.1" y1="427.5" x2="1188.1" y2="427.5" stroke-width="1"/>
<line x1="1200.1" y1="454.5" x2="1188.1" y2="454.5" stroke-width="1"/>
<line x1="1200.1" y1="476.5" x2="1188.1" y2="476.5" stroke-width="1"/>
</g>
<text transform="translate(66.58,40.93) scale(1,1.0989)" font-size="37.99" fill="#1c1c1c">90</text>
<text transform="translate(66.44,118.83) scale(1,1.0954)" font-size="38.11" fill="#1c1c1c">60</text>
<text transform="translate(66.84,196.83) scale(1,1.1061)" font-size="37.74" fill="#1c1c1c">30</text>
<text transform="translate(87.95,272.73) scale(1,1.1117)" font-size="37.55" fill="#1c1c1c">0</text>
<text transform="translate(55.97,352.73) scale(1,1.1428)" font-size="36.53" fill="#1c1c1c">-30</text>
<text transform="translate(55.97,429.83) scale(1,1.1428)" font-size="36.53" fill="#1c1c1c">-60</text>
<text transform="translate(55.97,506.73) scale(1,1.1428)" font-size="36.53" fill="#1c1c1c">-90</text>
<text transform="translate(96.78,541.74) scale(1,1.1192)" font-size="36.25" fill="#1c1c1c">-45</text>
<text transform="translate(275.84,541.74) scale(1,1.1051)" font-size="37.26" fill="#1c1c1c">-30</text>
<text transform="translate(454.94,541.74) scale(1,1.0926)" font-size="37.13" fill="#1c1c1c">-15</text>
<text transform="translate(652.44,541.74) scale(1,1.0905)" font-size="37.76" fill="#1c1c1c">0</text>
<text transform="translate(821.22,541.74) scale(1,1.0981)" font-size="36.95" fill="#1c1c1c">15</text>
<text transform="translate(1000.16,541.74) scale(1,1.1081)" font-size="37.16" fill="#1c1c1c">30</text>
<text transform="translate(1180.41,541.74) scale(1,1.1264)" font-size="36.02" fill="#1c1c1c">45</text>
<text transform="translate(1221.72,40.63) scale(1,1.1211)" font-size="37.11" fill="#1c1c1c">90</text>
<text transform="translate(1222.40,84.83) scale(1,1.1348)" font-size="37.04" fill="#1c1c1c">60</text>
<text transform="translate(1222.47,148.83) scale(1,1.1292)" font-size="36.97" fill="#1c1c1c">30</text>
<text transform="translate(1223.07,274.73) scale(1,1.1268)" font-size="36.92" fill="#1c1c1c">0</text>
<text transform="translate(1217.74,402.83) scale(1,1.1286)" font-size="37.11" fill="#1c1c1c">-30</text>
<text transform="translate(1217.54,468.73) scale(1,1.1248)" font-size="37.11" fill="#1c1c1c">-60</text>
<text transform="translate(1218.04,510.73) scale(1,1.1270)" font-size="37.04" fill="#1c1c1c">-90</text>
<text transform="translate(436.59,583.91) scale(1,1.0033)" font-size="36.84" font-weight="bold" fill="#000">Paleolatitude deviation (°)</text>
<text transform="translate(39.66,377.80) rotate(-90) scale(1,0.9576)" font-size="36.81" font-weight="bold" fill="#000">Inclination (°)</text>
<text transform="translate(1312.70,371.69) rotate(-90) scale(1,0.9690)" font-size="36.57" font-weight="bold" fill="#000">Paleolatitude</text>
<text transform="translate(1356.44,378.77) rotate(-90) scale(1,0.9922)" font-size="36.61" font-weight="bold" fill="#000">under GAD (°)</text>
<rect x="946.3" y="67.4" width="217.4" height="188.0" fill="#fff" stroke="#222" stroke-width="1"/>
<line x1="957" y1="93.4" x2="996" y2="93.4" stroke="#000" stroke-width="4.9"/>
<line x1="957" y1="127.5" x2="996" y2="127.5" stroke="#0040b8" stroke-width="4.9"/>
<line x1="957" y1="162.0" x2="996" y2="162.0" stroke="#0050ff" stroke-width="3.9"/>
<line x1="957" y1="194.0" x2="996" y2="194.0" stroke="#6f9af5" stroke-width="3.9"/>
<line x1="957" y1="226.0" x2="996" y2="226.0" stroke="#c8dafc" stroke-width="3.9"/>
<text transform="translate(1003.23,105.05) scale(1,1.1116)" font-size="36.41" fill="#000">G3=0%</text>
<text transform="translate(1003.12,139.85) scale(1,1.1074)" font-size="36.55" fill="#000">G3=10%</text>
<text transform="translate(1002.92,173.85) scale(1,1.0880)" font-size="36.68" fill="#000">G3=15%</text>
<text transform="translate(1002.92,207.85) scale(1,1.0829)" font-size="36.68" fill="#000">G3=20%</text>
<text transform="translate(1002.92,240.85) scale(1,1.1034)" font-size="36.68" fill="#000">G3=30%</text>
</svg></body></html>
